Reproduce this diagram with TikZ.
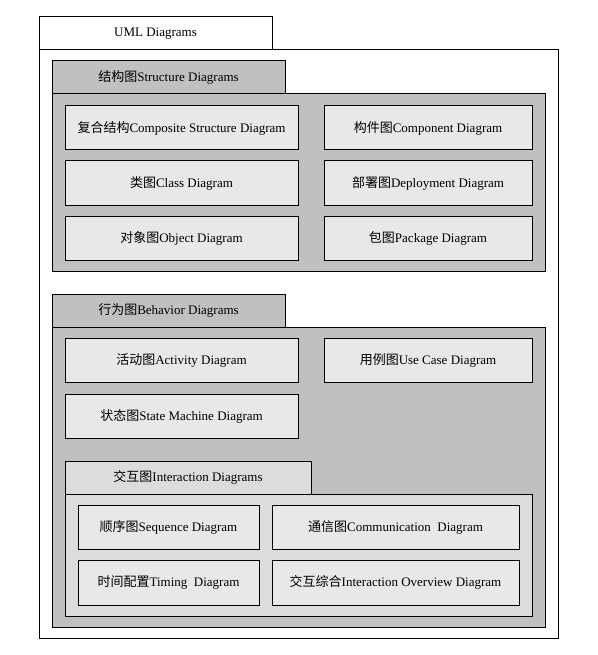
\documentclass[tikz,border=0pt]{standalone}
\usepackage{fontspec}
\setmainfont{Liberation Serif}
\newfontfamily\cjk{Noto Sans CJK SC}
\definecolor{midgray}{HTML}{C0C0C0}
\definecolor{boxgray}{HTML}{E8E8E8}
\definecolor{intgray}{HTML}{DCDCDC}
\begin{document}
\begin{tikzpicture}[x=1pt,y=-1pt,
  frm/.style={draw=black,line width=1pt,inner sep=0pt,outer sep=0pt},
  lbl/.style={font=\fontsize{13}{15}\selectfont,inner sep=0pt}]
\useasboundingbox (0,0) rectangle (597,655);
% outer
\path[frm,fill=white] (39,50) rectangle (558,638);
\node[frm,fill=white,minimum width=233pt,minimum height=33pt,anchor=north west,lbl] (umltab) at (39,17) {UML Diagrams};
% structure
\path[frm,fill=midgray] (52,94) rectangle (545,271);
\node[frm,fill=midgray,minimum width=233pt,minimum height=33pt,anchor=north west,lbl] (strtab) at (52,61) {{\cjk 结构图}Structure Diagrams};
\node[frm,fill=boxgray,minimum width=233pt,minimum height=44pt,anchor=north west,lbl] (comp) at (65,106) {{\cjk 复合结构}Composite Structure Diagram};
\node[frm,fill=boxgray,minimum width=233pt,minimum height=44pt,anchor=north west,lbl] (cls) at (65,161) {{\cjk 类图}Class Diagram};
\node[frm,fill=boxgray,minimum width=233pt,minimum height=44pt,anchor=north west,lbl] (obj) at (65,216) {{\cjk 对象图}Object Diagram};
\node[frm,fill=boxgray,minimum width=208pt,minimum height=44pt,anchor=north west,lbl] (cmp) at (324,106) {{\cjk 构件图}Component Diagram};
\node[frm,fill=boxgray,minimum width=208pt,minimum height=44pt,anchor=north west,lbl] (dep) at (324,161) {{\cjk 部署图}Deployment Diagram};
\node[frm,fill=boxgray,minimum width=208pt,minimum height=44pt,anchor=north west,lbl] (pkg) at (324,216) {{\cjk 包图}Package Diagram};
% behavior
\path[frm,fill=midgray] (52,327) rectangle (545,627);
\node[frm,fill=midgray,minimum width=233pt,minimum height=33pt,anchor=north west,lbl] (behtab) at (52,294) {{\cjk 行为图}Behavior Diagrams};
\node[frm,fill=boxgray,minimum width=233pt,minimum height=44pt,anchor=north west,lbl] (act) at (65,338) {{\cjk 活动图}Activity Diagram};
\node[frm,fill=boxgray,minimum width=208pt,minimum height=44pt,anchor=north west,lbl] (uc) at (324,338) {{\cjk 用例图}Use Case Diagram};
\node[frm,fill=boxgray,minimum width=233pt,minimum height=44pt,anchor=north west,lbl] (sm) at (65,394) {{\cjk 状态图}State Machine Diagram};
% interaction
\path[frm,fill=intgray] (65,494) rectangle (532,616);
\node[frm,fill=intgray,minimum width=246pt,minimum height=33pt,anchor=north west,lbl] (inttab) at (65,461) {{\cjk 交互图}Interaction Diagrams};
\node[frm,fill=boxgray,minimum width=181pt,minimum height=44pt,anchor=north west,lbl] (seq) at (78,505) {{\cjk 顺序图}Sequence Diagram};
\node[frm,fill=boxgray,minimum width=181pt,minimum height=45pt,anchor=north west,lbl] (tim) at (78,560) {{\cjk 时间配置}Timing\ \ Diagram};
\node[frm,fill=boxgray,minimum width=247pt,minimum height=44pt,anchor=north west,lbl] (com) at (272,505) {{\cjk 通信图}Communication\ \ Diagram};
\node[frm,fill=boxgray,minimum width=247pt,minimum height=45pt,anchor=north west,lbl] (iov) at (272,560) {{\cjk 交互综合}Interaction Overview Diagram};
\end{tikzpicture}
\end{document}
